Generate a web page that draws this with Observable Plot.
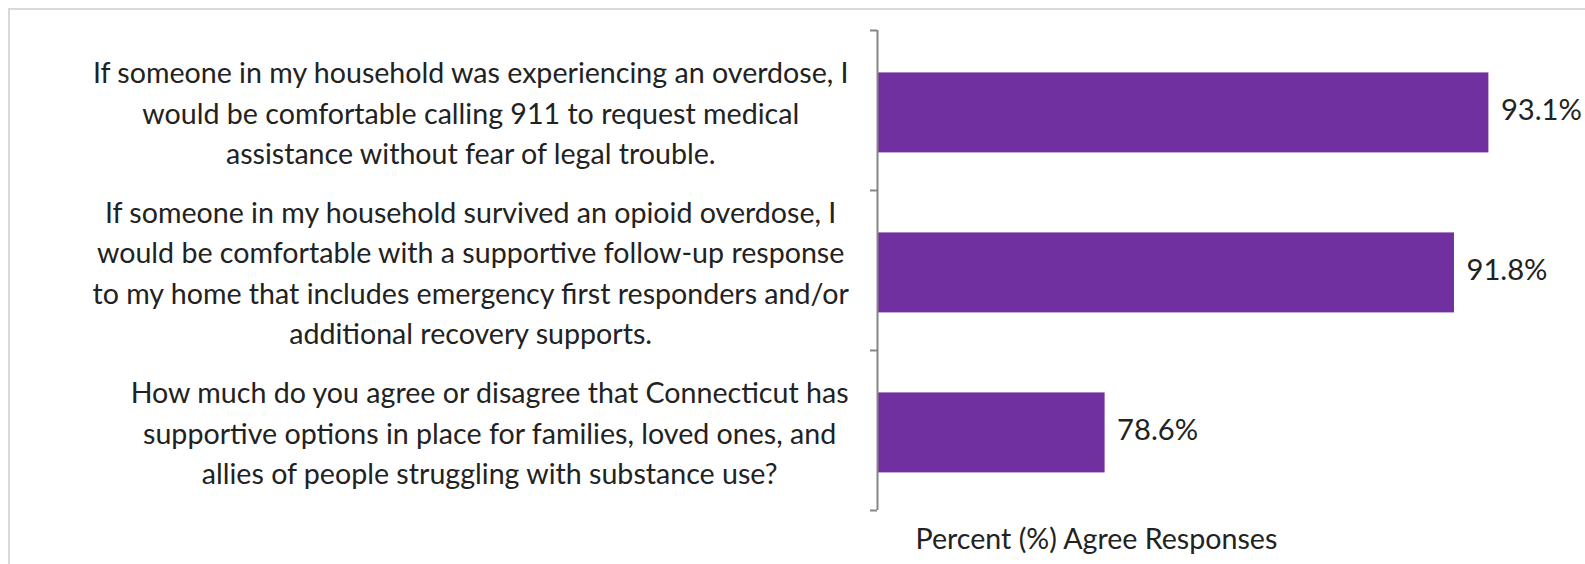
<!DOCTYPE html>
<html>
<head>
<meta charset="utf-8">
<script src="https://cdn.jsdelivr.net/npm/d3@7"></script>
<script src="https://cdn.jsdelivr.net/npm/@observablehq/plot@0.6"></script>
<style>
html, body { margin: 0; padding: 0; background: #fff; }
#wrap { position: relative; width: 1585px; height: 564px; overflow: hidden; }
#border { position: absolute; left: 8px; top: 8px; width: 1700px; height: 700px;
  border-left: 2px solid #d9d9d9; border-top: 2px solid #d9d9d9; }
#chart { position: absolute; left: 0; top: 0; }
</style>
</head>
<body>
<div id="wrap"><div id="border"></div><div id="chart"></div></div>
<script>
// ---- data ----
const statements = [
  "If someone in my household was experiencing an overdose, I\nwould be comfortable calling 911 to request medical\nassistance without fear of legal trouble.",
  "If someone in my household survived an opioid overdose, I\nwould be comfortable with a supportive follow-up response\nto my home that includes emergency first responders and/or\nadditional recovery supports.",
  "How much do you agree or disagree that Connecticut has\nsupportive options in place for families, loved ones, and\nallies of people struggling with substance use?"
];
const agreePercent = [93.1, 91.8, 78.6];
const valueLabels = ["93.1%", "91.8%", "78.6%"];
const axisTitle = "Percent (%) Agree Responses";
const xDomain = [70, 100];
const categoryBoundaries = [0, 1, 2, 3];

// ---- layout / style ----
const W = 1585, H = 564;
const FONT = "Lato";
const purple = "#7030A0";
const axisGray = "#868686";
const textColor = "#222";

const ctx = document.createElement("canvas").getContext("2d");
function widest(s, size) {
  ctx.font = `${size}px ${FONT}`;
  return d3.max(s.split("\n"), l => ctx.measureText(l).width);
}
const refSize = 29;
const maxW = d3.max(statements, s => widest(s, refSize));
const fontSize = refSize * 758 / maxW;
const valueFontSize = fontSize * 1.02;

const data = statements.map((s, i) => ({
  statement: s, value: agreePercent[i], label: valueLabels[i], pos: i
}));

const labelGap = 28;
const statementMarks = data.map(d => {
  const w = widest(d.statement, fontSize);
  return Plot.text([d], {
    x: xDomain[0], y: r => r.pos + 0.5, text: "statement",
    textAnchor: "middle", lineAnchor: "middle", lineHeight: 1.42,
    dx: -(labelGap + w / 2), fontSize, fill: textColor
  });
});

const chart = Plot.plot({
  width: W, height: H,
  marginLeft: 877, marginTop: 30, marginBottom: 54, marginRight: 0,
  style: { fontFamily: FONT, background: "transparent", overflow: "visible" },
  x: { domain: xDomain, range: [877, 1671], axis: null },
  y: { domain: [0, 3], reverse: true, axis: null },
  marks: [
    Plot.rectX(data, {
      x1: xDomain[0], x2: "value",
      y1: d => d.pos + 0.265, y2: d => d.pos + 0.765,
      fill: purple
    }),
    Plot.ruleX([xDomain[0]], { stroke: axisGray, strokeWidth: 2 }),
    Plot.axisY(categoryBoundaries, {
      anchor: "left", tickSize: 7, tickFormat: () => "", label: null,
      stroke: axisGray, strokeWidth: 2
    }),
    ...statementMarks,
    Plot.text(data, {
      x: "value", y: d => d.pos + 0.5, text: "label",
      textAnchor: "start", dx: 12, fontSize: valueFontSize, fill: textColor
    }),
    Plot.text([axisTitle], {
      frameAnchor: "bottom-left", dx: 38, dy: 29,
      textAnchor: "start", lineAnchor: "middle", fontSize, fill: textColor
    })
  ]
});
document.getElementById("chart").appendChild(chart);
</script>
</body>
</html>
